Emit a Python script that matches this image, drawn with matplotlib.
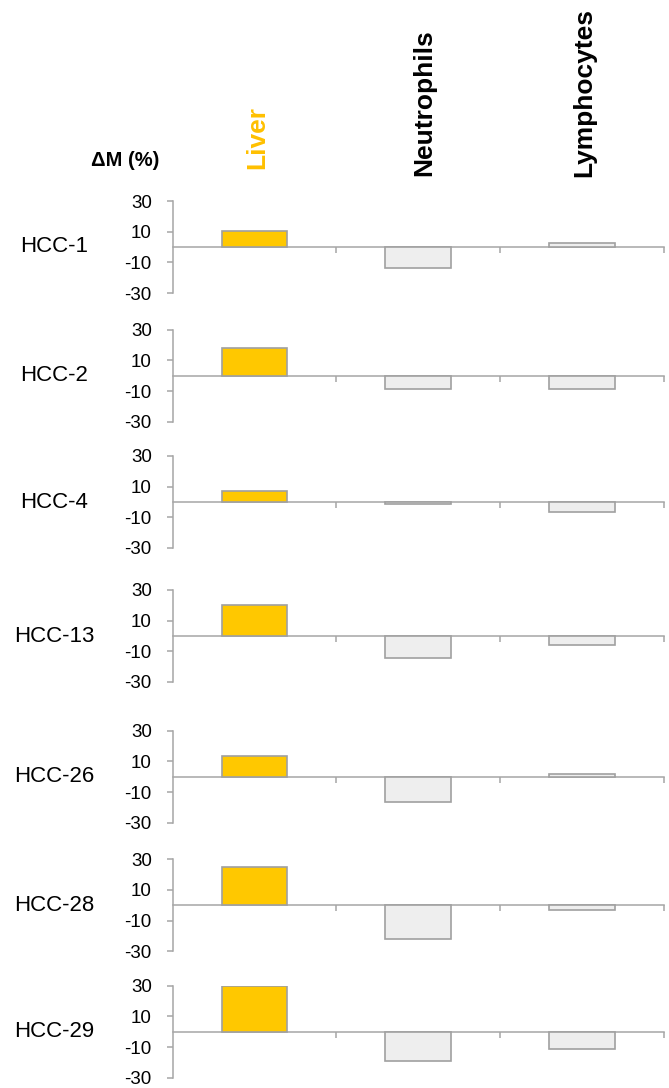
import matplotlib.pyplot as plt

plt.rcParams['font.family'] = ['Liberation Sans', 'DejaVu Sans']

samples = ['HCC-1', 'HCC-2', 'HCC-4', 'HCC-13', 'HCC-26', 'HCC-28', 'HCC-29']
tissues = ['Liver', 'Neutrophils', 'Lymphocytes']
delta_m = [
    [10.6, -13.5, 2.8],
    [17.9, -8.9, -8.5],
    [7.4, -1.3, -6.5],
    [20.0, -14.3, -5.7],
    [13.7, -16.5, 2.0],
    [25.2, -22.0, -3.0],
    [30.0, -19.1, -11.5],
]
y_ticks = [-30, -10, 10, 30]

W, H = 669, 1088
fig = plt.figure(figsize=(W / 100, H / 100), dpi=100)

grey = '#a6a6a6'
liver_col = '#ffc800'
other_col = '#eeeeee'

# pixel row of the zero line for each panel
zero_rows = [247, 375.7, 502, 636, 776.7, 905.3, 1031.7]
half_h = 46
left_px, right_px = 172.7, 663.7

for i, name in enumerate(samples):
    y0 = zero_rows[i]
    ax = fig.add_axes([left_px / W, 1 - (y0 + half_h) / H,
                       (right_px - left_px) / W, 2 * half_h / H])
    colors = [liver_col, other_col, other_col]
    ax.bar(range(3), delta_m[i], width=0.4, color=colors,
           edgecolor='#a0a0a0', linewidth=1.2, zorder=3)
    ax.set_xlim(-0.5, 2.5)
    ax.set_ylim(-30, 30)
    ax.set_yticks(y_ticks)
    ax.set_yticklabels([str(t) for t in y_ticks], fontsize=13.5)
    ax.tick_params(axis='y', direction='out', length=4, width=1.1,
                   color=grey, pad=11)
    ax.spines['bottom'].set_position(('data', 0))
    ax.set_xticks([0.5, 1.5, 2.5])
    ax.set_xticklabels([])
    ax.tick_params(axis='x', direction='out', length=4.5, width=1.1,
                   color=grey)
    for s in ['top', 'right']:
        ax.spines[s].set_visible(False)
    for s in ['left', 'bottom']:
        ax.spines[s].set_color(grey)
        ax.spines[s].set_linewidth(1.1)
    ax.patch.set_alpha(0)
    fig.text(54 / W, 1 - y0 / H, name, fontsize=16,
             ha='center', va='center')

# column headers
header_x = [257, 424, 584]
header_y = [169, 176, 177]
header_col = ['#ffc000', 'black', 'black']
for x, y, t, c in zip(header_x, header_y, tissues, header_col):
    fig.text(x / W, 1 - y / H, t, rotation=90, fontsize=19,
             fontweight='bold', color=c, ha='center', va='bottom')

fig.text(125 / W, 1 - 160 / H, '\u0394M (%)', fontsize=14.5,
         fontweight='bold', ha='center', va='center')

fig.savefig('out.png', dpi=100)
